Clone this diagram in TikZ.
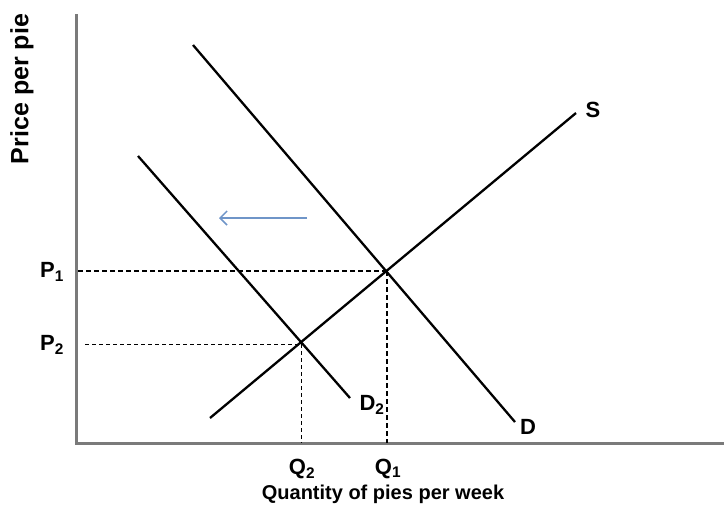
\documentclass[tikz,border=0pt]{standalone}
\usepackage{fontspec}
\setmainfont{Liberation Sans}
\usetikzlibrary{arrows.meta}
\definecolor{axisgray}{HTML}{7A7A7A}
\definecolor{shiftblue}{HTML}{6F95C8}
\begin{document}
\begin{tikzpicture}[x=1pt,y=-1pt,
  axisline/.style={draw=axisgray,line width=3pt},
  curve/.style={draw=black,line width=2.3pt},
  guide/.style={draw=black,line width=1.4pt,dash pattern=on 5pt off 3pt},
  guidethin/.style={draw=black,line width=1pt,dash pattern=on 4pt off 3pt},
  lbl/.style={font=\fontsize{22}{24}\selectfont\bfseries,inner sep=0pt},
  axlbl/.style={font=\fontsize{20}{22}\selectfont\bfseries,inner sep=0pt}]
\useasboundingbox (0,0) rectangle (724,523);
% axes
\coordinate (top) at (76,14);
\coordinate (origin) at (76,443);
\coordinate (right) at (724,443);
\draw[axisline] (top) -- (origin) -- (right);
% curves
\coordinate (Da) at (193,45);
\coordinate (Db) at (515,422);
\coordinate (Sa) at (210,418);
\coordinate (Sb) at (576,113);
\coordinate (D2a) at (138,156);
\coordinate (D2b) at (350,398);
\draw[curve] (Da) -- (Db);
\draw[curve] (Sa) -- (Sb);
\draw[curve] (D2a) -- (D2b);
% equilibria
\coordinate (E1) at (387,271);
\coordinate (E2) at (301,344);
\coordinate (P1s) at (78,271);
\coordinate (P2s) at (85,344);
\coordinate (Q1b) at (387,443);
\coordinate (Q2b) at (301,443);
\draw[guide] (P1s) -- (E1);
\draw[guide] (E1) -- (Q1b);
\draw[guidethin] (P2s) -- (E2);
\draw[guidethin] (E2) -- (Q2b);
% labels
\node[lbl] (P1) at (52,272) {P\textsubscript{1}};
\node[lbl] (P2) at (52,345) {P\textsubscript{2}};
\node[lbl] (Q2) at (302,469) {Q\textsubscript{2}};
\node[lbl] (Q1) at (388,469) {Q\textsubscript{1}};
\node[lbl] (D2l) at (372,405) {D\textsubscript{2}};
\node[lbl] (Dl) at (528,427) {D};
\node[lbl] (Sl) at (593,110) {S};
\node[axlbl] (xl) at (383,494) {Quantity of pies per week};
\node[font=\fontsize{25}{27}\selectfont\bfseries,inner sep=0pt,rotate=90] (yl) at (22,89) {Price per pie};
% shift arrow
\coordinate (arrA) at (307,218);
\coordinate (arrB) at (219,218);
\draw[draw=shiftblue,line width=1.5pt,-{Straight Barb[length=7pt,width=14pt]}] (arrA) -- (arrB);
\end{tikzpicture}
\end{document}
